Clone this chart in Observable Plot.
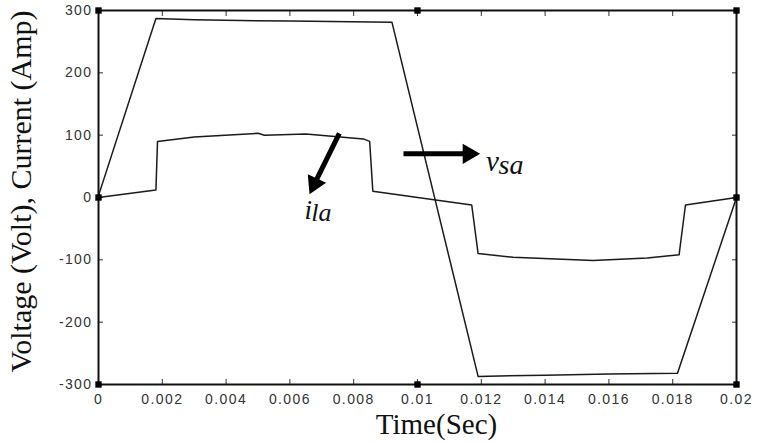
<!DOCTYPE html>
<html><head><meta charset="utf-8">
<script src="https://cdn.jsdelivr.net/npm/d3@7"></script>
<script src="https://cdn.jsdelivr.net/npm/@observablehq/plot@0.6"></script>
<style>
body{margin:0;background:#fff}
g[aria-label="x-axis tick label"] text, g[aria-label="y-axis tick label"] text{letter-spacing:1.4px}
</style>
</head><body><div id="chart"></div>
<script>
// v_sa (source voltage)
const vsaTime  = [0, 0.0018, 0.0030, 0.0060, 0.0092, 0.0119, 0.0140, 0.0160, 0.01815, 0.0200];
const vsaValue = [3, 287, 285, 283, 281, -287, -285, -283, -282, 0];
// i_la (load current)
const ilaTime  = [0, 0.0018, 0.00185, 0.0030, 0.0050, 0.0052, 0.0065, 0.0083, 0.0085, 0.0086, 0.0117, 0.0119, 0.0130, 0.0155, 0.0172, 0.0182, 0.0184, 0.0200];
const ilaValue = [0, 12, 90, 97, 103, 100, 102, 94, 90, 10, -12, -90, -96, -101, -97, -92, -12, 0];

const xTicks = [0, 0.002, 0.004, 0.006, 0.008, 0.01, 0.012, 0.014, 0.016, 0.018, 0.02];
const xTickLabels = ["0", "0.002", "0.004", "0.006", "0.008", "0.01", "0.012", "0.014", "0.016", "0.018", "0.02"];
const yTicks = [-300, -200, -100, 0, 100, 200, 300];
const yTickLabels = ["-300", "-200", "-100", "0", "100", "200", "300"];

const markerTime  = [0, 0.01, 0.02, 0, 0.02, 0, 0.01, 0.02];
const markerValue = [300, 300, 300, 0, 0, -300, -300, -300];

// annotation arrows: shaft start, head (triangle centre), head rotation
const arrowX1 = [0.00755, 0.00956];
const arrowY1 = [103, 70];
const arrowX2 = [0.00677, 0.0116];
const arrowY2 = [22, 70];
const arrowRotate = [205, 90];

// annotation labels (baseline positions)
const annText  = ["i", "la", "v", "sa"];
const annTime  = [0.00646, 0.00667, 0.01215, 0.01254];
const annValue = [-35, -38, 43, 37];
const annSize  = [27, 26, 29, 28];

const vsa = vsaTime.map((t, i) => ({t, v: vsaValue[i]}));
const ila = ilaTime.map((t, i) => ({t, v: ilaValue[i]}));
const markers = markerTime.map((t, i) => ({t, v: markerValue[i]}));
const arrows = arrowX1.map((x1, i) => ({x1, y1: arrowY1[i], x2: arrowX2[i], y2: arrowY2[i], r: arrowRotate[i]}));
const ann = annText.map((s, i) => ({s, t: annTime[i], v: annValue[i], size: annSize[i]}));

const tickFont = "Liberation Sans, Arial, sans-serif";
const serif = "Liberation Serif, Times New Roman, serif";

const chart = Plot.plot({
  width: 758, height: 442,
  marginLeft: 98, marginRight: 22, marginTop: 10, marginBottom: 58,
  style: {background: "#fff", color: "#222"},
  x: {domain: [0, 0.02]},
  y: {domain: [-300, 300]},
  marks: [
    Plot.axisX({ticks: xTicks, tickSize: 0, tickPadding: 10, tickFormat: (d, i) => xTickLabels[i], label: null, fontSize: 14, fontFamily: tickFont, fill: "#333"}),
    Plot.axisY({ticks: yTicks, tickSize: 0, tickPadding: 6, tickFormat: (d, i) => yTickLabels[i], label: null, fontSize: 14, fontFamily: tickFont, fill: "#333"}),
    Plot.axisX({ticks: xTicks, tickSize: -5, text: null, label: null, stroke: "#333"}),
    Plot.axisX({ticks: xTicks, anchor: "top", tickSize: -5, text: null, label: null, stroke: "#333"}),
    Plot.axisY({ticks: yTicks, tickSize: -5, text: null, label: null, stroke: "#333"}),
    Plot.axisY({ticks: yTicks, anchor: "right", tickSize: -5, text: null, label: null, stroke: "#333"}),
    Plot.frame({stroke: "#111", strokeWidth: 2}),
    Plot.line(vsa, {x: "t", y: "v", stroke: "#1a1a1a", strokeWidth: 1.5}),
    Plot.line(ila, {x: "t", y: "v", stroke: "#1a1a1a", strokeWidth: 1.5}),
    Plot.dot(markers, {x: "t", y: "v", symbol: "square", r: 3.6, fill: "#000"}),
    Plot.link(arrows, {x1: "x1", y1: "y1", x2: "x2", y2: "y2", stroke: "#000", strokeWidth: 5}),
    Plot.dot(arrows, {x: "x2", y: "y2", symbol: "triangle", r: 7.5, fill: "#000", rotate: "r"}),
    Plot.text(ann, {x: "t", y: "v", text: "s", fontSize: "size", fontStyle: "italic", fontFamily: serif, textAnchor: "start", lineAnchor: "bottom", fill: "#111"}),
    Plot.text(["Voltage (Volt), Current (Amp)"], {frameAnchor: "left", textAnchor: "middle", lineAnchor: "bottom", dx: -68, dy: -6, rotate: -90, fontSize: 30, fontFamily: serif, fill: "#111"}),
    Plot.text(["Time(Sec)"], {frameAnchor: "bottom", textAnchor: "middle", lineAnchor: "bottom", dx: 19, dy: 49, fontSize: 29, fontFamily: serif, fill: "#111"})
  ]
});
document.getElementById("chart").appendChild(chart);
</script>
</body></html>
